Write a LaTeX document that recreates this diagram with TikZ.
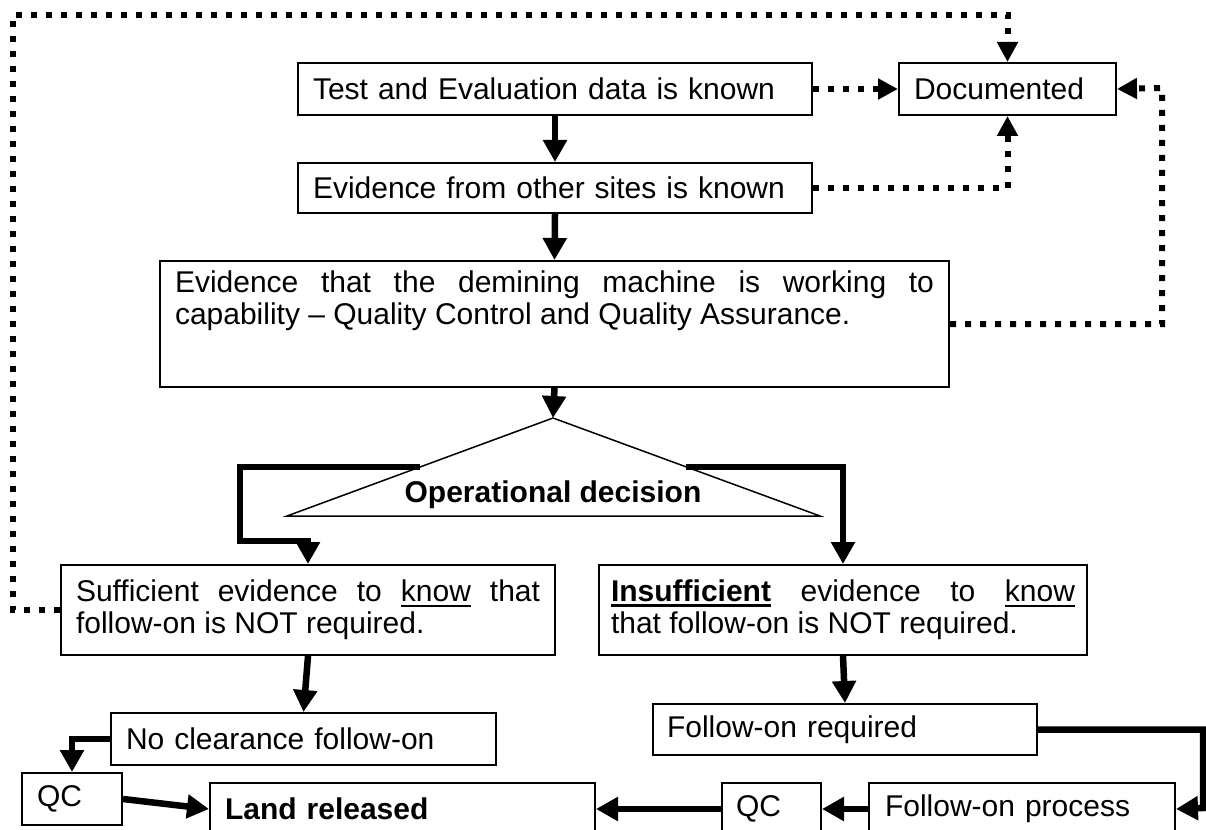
\documentclass[tikz,border=0pt]{standalone}
\usepackage{fontspec}
\setmainfont{Liberation Sans}
\usetikzlibrary{arrows.meta}
\newcommand{\myul}[2]{\setbox0=\hbox{#2}\rlap{\rule[-5pt]{\wd0}{#1}}\box0\relax}
\begin{document}
\begin{tikzpicture}[x=1pt,y=-1pt,
  box/.style={draw, line width=2pt, anchor=north west, inner xsep=15pt, inner ysep=0pt, font=\fontsize{30}{32}\selectfont},
  tbox/.style={box, align=left},
  jbox/.style={box, align=justify},
  thk/.style={line width=6.5pt, -{Triangle[length=22pt,width=23pt]}},
  dot/.style={line width=6pt, dash pattern=on 6pt off 9pt, -{Triangle[length=20pt,width=20pt]}},
  tri/.style={line width=1.5pt},
]
\useasboundingbox (0,0) rectangle (1206,829);
\clip (0,0) rectangle (1206,829);

% boxes
\node[tbox, text width=484pt, minimum height=52pt] (te) at (297,62) {Test and Evaluation data is known};
\node[tbox, text width=187pt, minimum height=52pt] (doc) at (898,62) {Documented};
\node[tbox, text width=484pt, minimum height=50pt] (ev) at (297,162) {Evidence from other sites is known};
\node[box] (big) at (159,260) {\parbox[c][126pt][t]{759pt}{\vspace*{10pt}Evidence that the demining machine is working to\linebreak capability – Quality Control and Quality Assurance.}};
\node[jbox, text width=464pt, minimum height=90pt] (suf) at (60,564) {Sufficient evidence to \myul{2pt}{know} that\linebreak follow-on is NOT required.};
\node[jbox, inner xsep=12pt, text width=464pt, minimum height=90pt] (ins) at (598,564) {\myul{3pt}{\textbf{Insufficient}} evidence to \myul{2pt}{know}\linebreak that follow-on is NOT required.};
\node[tbox, text width=355pt, minimum height=52pt] (noc) at (110,712) {No clearance follow-on};
\node[tbox, text width=356pt, inner xsep=14pt, minimum height=51pt] (fr) at (652,703) {Follow-on required};
\node[tbox, text width=70pt, minimum height=52pt] (qc1) at (21,772) {QC};
\node[tbox, text width=355pt, minimum height=52pt] (land) at (209,782) {\textbf{Land released}};
\node[tbox, text width=71pt, inner xsep=14pt, minimum height=52pt] (qc2) at (721,782) {QC};
\node[tbox, text width=274pt, inner xsep=16pt, minimum height=52pt] (fp) at (868,782) {Follow-on process};

% decision triangle
\coordinate (apex) at (553,418);
\coordinate (tl) at (287,516);
\coordinate (tr) at (820,516);
\draw[tri] (apex) -- (tr) -- (tl) -- cycle;
\node[font=\fontsize{30}{32}\selectfont\bfseries, anchor=base, inner sep=0pt] (od) at (553,502) {Operational decision};

% helper coordinates
\coordinate (lb) at (420,467);
\coordinate (lc1) at (240,467);
\coordinate (lc2) at (240,541);
\coordinate (rb) at (686,467);
\coordinate (cTL) at (13,15);
\coordinate (cR) at (1162,88);
\coordinate (cBR) at (1203,808);

% solid connectors
\draw[thk] (te.south) -- (ev.north);
\draw[thk] (ev.south) -- (big.north);
\draw[thk] (big.south) -- (apex);
\draw[thk] (lb) -- (lc1) -- (lc2) -| (suf.north);
\draw[thk] (rb) -| (ins.north);
\draw[thk] (suf.south) -- (noc.north);
\draw[thk] (noc.west) -| (qc1.north);
\draw[thk] (qc1.east) -- (land.west);
\draw[thk] (ins.south) -- (fr.north);
\draw[thk] (fr.east) -| (cBR) -- (fp.east);
\draw[thk] (fp.west) -- (qc2.east);
\draw[thk] (qc2.west) -- (land.east);

% dotted connectors
\draw[dot] (te.east) -- (doc.west);
\draw[dot] (ev.east) -| (doc.south);
\draw[dot] (big.east) -| (cR) -- (doc.east);
\draw[dot] (suf.west) -| (cTL) -| (doc.north);
\end{tikzpicture}
\end{document}
